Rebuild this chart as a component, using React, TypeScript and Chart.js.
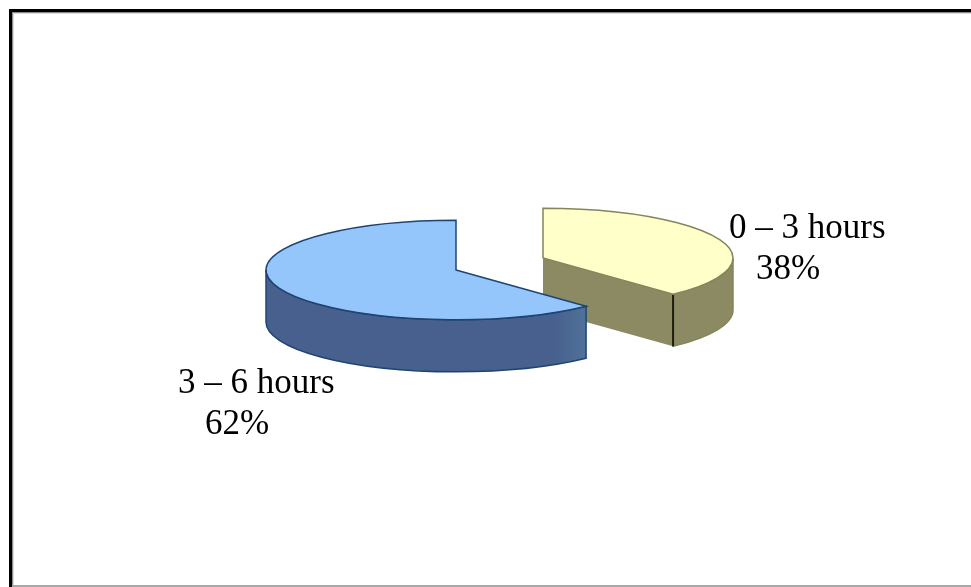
import React, { useEffect, useRef } from "react";
import { Chart, registerables } from "chart.js";

Chart.register(...registerables);

const categories = ["0 – 3 hours", "3 – 6 hours"];
const shares = [38, 62];

const topColors = ["#ffffc9", "#94c6fc"];
const edgeColors = ["#85855a", "#1f4472"];
const wallColors = ["#8b8a63", "#47608e"];

const SQUASH = 0.262;
const DEPTH = 52;
const SLICE_CENTERS = [
  { x: 543, y: 258 },
  { x: 456, y: 270 },
];
const LABEL_SPOTS = [
  { x: 729, y: 238, pctX: 756, pctY: 279 },
  { x: 178, y: 393, pctX: 205, pctY: 434 },
];

// Draws each slice as a squashed disc with an extruded rim, using the arc
// angles and radius computed by the pie controller.
const pie3d = {
  id: "pie3d",
  beforeDraw(chart: any) {
    const { ctx, width, height } = chart;
    ctx.save();
    ctx.fillStyle = "#ffffff";
    ctx.fillRect(0, 0, width, height);

    // Page frame: a heavy rule on the left and top that softens inward.
    const rules: [string, number, number][] = [
      ["#000000", 9, 3],
      ["#8c8c8c", 12, 1],
      ["#dcdcdc", 13, 1],
    ];
    rules.forEach(([color, at, size]) => {
      ctx.fillStyle = color;
      ctx.fillRect(at, at, size, height - at);
      ctx.fillRect(at, at, width - at, size);
    });
    ctx.fillStyle = "#a8a8a8";
    ctx.fillRect(12, height - 2, width, 2);
    ctx.restore();
  },
  beforeDatasetDraw(chart: any) {
    const { ctx } = chart;
    const arcs = chart.getDatasetMeta(0).data;
    arcs.forEach((arc: any, i: number) => {
      const c = SLICE_CENTERS[i];
      const rx = arc.outerRadius;
      const ry = rx * SQUASH;
      const from = Math.max(arc.startAngle, 0);
      const to = Math.min(arc.endAngle, Math.PI);
      const ex = c.x + rx * Math.cos(arc.endAngle);
      const ey = c.y + ry * Math.sin(arc.endAngle);

      ctx.save();
      ctx.lineWidth = 1.5;
      ctx.strokeStyle = edgeColors[i];

      // Cut face that stays visible on the right-hand slice.
      if (i === 0) {
        ctx.fillStyle = wallColors[i];
        ctx.beginPath();
        ctx.moveTo(c.x, c.y);
        ctx.lineTo(ex, ey);
        ctx.lineTo(ex, ey + DEPTH);
        ctx.lineTo(c.x, c.y + DEPTH);
        ctx.closePath();
        ctx.fill();
      }

      // Curved rim, lightening toward the front edge of the blue slice.
      if (i === 1) {
        const frontX = c.x + rx * Math.cos(from);
        const shade = ctx.createLinearGradient(c.x - rx, 0, frontX, 0);
        shade.addColorStop(0, wallColors[i]);
        shade.addColorStop(0.9, wallColors[i]);
        shade.addColorStop(1, "#507299");
        ctx.fillStyle = shade;
      } else {
        ctx.fillStyle = wallColors[i];
      }
      ctx.beginPath();
      ctx.ellipse(c.x, c.y, rx, ry, 0, from, to);
      ctx.ellipse(c.x, c.y + DEPTH, rx, ry, 0, to, from, true);
      ctx.closePath();
      ctx.fill();
      ctx.stroke();

      if (i === 0) {
        ctx.strokeStyle = "#1c1c10";
        ctx.lineWidth = 2;
        ctx.beginPath();
        ctx.moveTo(ex, ey);
        ctx.lineTo(ex, ey + DEPTH);
        ctx.stroke();
      }
      ctx.restore();

      // Top of the slice: the library's own arc, flattened and moved into place.
      ctx.save();
      ctx.translate(c.x, c.y);
      ctx.scale(1, SQUASH);
      ctx.translate(-arc.x, -arc.y);
      arc.draw(ctx);
      ctx.restore();

      // Even outline round the flattened top.
      ctx.save();
      ctx.lineWidth = 1.5;
      ctx.strokeStyle = edgeColors[i];
      ctx.beginPath();
      ctx.moveTo(c.x, c.y);
      ctx.ellipse(c.x, c.y, rx, ry, 0, arc.startAngle, arc.endAngle);
      ctx.closePath();
      ctx.stroke();
      ctx.restore();
    });
    return false;
  },
  afterDraw(chart: any) {
    const { ctx } = chart;
    ctx.save();
    ctx.fillStyle = "#000000";
    ctx.font = '35px "Liberation Serif"';
    ctx.textAlign = "left";
    ctx.textBaseline = "alphabetic";
    categories.forEach((name, i) => {
      const s = LABEL_SPOTS[i];
      ctx.fillText(name, s.x, s.y);
      ctx.fillText(`${shares[i]}%`, s.pctX, s.pctY);
    });
    ctx.restore();
  },
};

export default function App() {
  const ref = useRef<HTMLCanvasElement>(null);
  useEffect(() => {
    const chart = new Chart(ref.current!, {
      type: "pie",
      data: {
        labels: categories,
        datasets: [
          {
            data: shares,
            backgroundColor: topColors,
            borderWidth: 0,
          },
        ],
      },
      options: {
        responsive: false,
        animation: false,
        radius: 190,
        plugins: { legend: { display: false }, tooltip: { enabled: false } },
      } as any,
      plugins: [pie3d],
    });
    return () => chart.destroy();
  }, []);
  return (
    <canvas
      ref={ref}
      width={971}
      height={587}
      style={{ position: "absolute", left: 0, top: 0, display: "block" }}
    />
  );
}
